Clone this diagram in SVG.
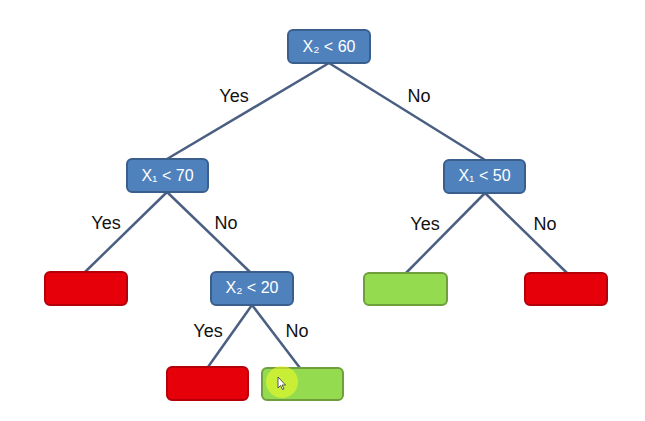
<svg xmlns="http://www.w3.org/2000/svg" width="645" height="421" viewBox="0 0 645 421">
<style>
.dec rect{fill:#4F81BD;stroke:#3A5F8D;stroke-width:2}
.dec text{fill:#fff;font-family:"Liberation Sans","DejaVu Sans",sans-serif;font-size:16px;text-anchor:middle}
.red rect{fill:#E6000A;stroke:#B5000A;stroke-width:2}
.green rect{fill:#95DB50;stroke:#6F9E3C;stroke-width:2}
.lbl{fill:#111;font-family:"Liberation Sans","DejaVu Sans",sans-serif;font-size:18px;text-anchor:middle}
#connectors line{stroke:#4A5F82;stroke-width:2.5}
</style>
<rect width="645" height="421" fill="#fff"/>
<g id="connectors">
<line x1="329" y1="63" x2="167" y2="159"/>
<line x1="329" y1="63" x2="485" y2="160"/>
<line x1="167" y1="192" x2="85" y2="272"/>
<line x1="167" y1="192" x2="250" y2="272"/>
<line x1="485" y1="193" x2="406" y2="273"/>
<line x1="485" y1="193" x2="567" y2="273"/>
<line x1="252" y1="305" x2="208" y2="367"/>
<line x1="252" y1="305" x2="300" y2="368"/>
</g>
<g id="labels">
<text class="lbl" x="234" y="102">Yes</text>
<text class="lbl" x="419" y="102">No</text>
<text class="lbl" x="106" y="229">Yes</text>
<text class="lbl" x="226" y="229">No</text>
<text class="lbl" x="425" y="230">Yes</text>
<text class="lbl" x="545" y="230">No</text>
<text class="lbl" x="208" y="337">Yes</text>
<text class="lbl" x="297" y="337">No</text>
</g>
<g id="n_root" class="dec"><rect x="288" y="30" width="82" height="33" rx="5"/><text x="329" y="52">X₂ &lt; 60</text></g>
<g id="n_x1_70" class="dec"><rect x="127" y="159" width="81" height="33" rx="5"/><text x="167.5" y="181">X₁ &lt; 70</text></g>
<g id="n_x1_50" class="dec"><rect x="444" y="160" width="81" height="33" rx="5"/><text x="484.5" y="181">X₁ &lt; 50</text></g>
<g id="n_x2_20" class="dec"><rect x="211" y="272" width="82" height="33" rx="5"/><text x="252" y="293">X₂ &lt; 20</text></g>
<g id="leaf1" class="red"><rect x="45" y="272" width="82" height="33" rx="5"/></g>
<g id="leaf2" class="green"><rect x="364" y="273" width="83" height="32" rx="5"/></g>
<g id="leaf3" class="red"><rect x="525" y="273" width="82" height="32" rx="5"/></g>
<g id="leaf4" class="red"><rect x="167" y="367" width="81" height="33" rx="5"/></g>
<g id="leaf5" class="green"><rect x="262" y="368" width="81" height="32" rx="5"/></g>
<g id="cursor">
<circle cx="282" cy="382" r="16" fill="#F2FF20" opacity="0.55"/>
<path d="M278,377 L278,388 L280.5,385.5 L282.5,389.5 L284,388.8 L282,385 L285.5,385 Z" fill="#fff" stroke="#333" stroke-width="0.8"/>
</g>
</svg>
